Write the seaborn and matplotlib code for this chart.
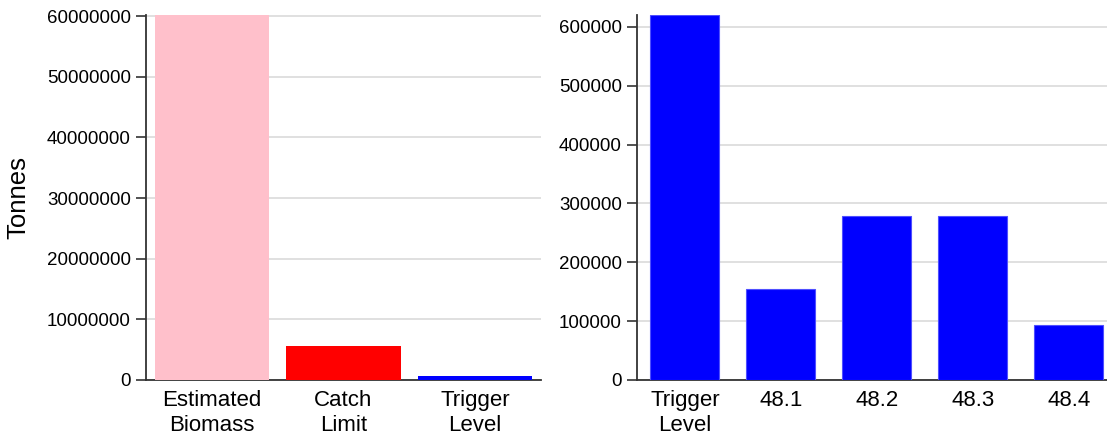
import pandas as pd
import seaborn as sns
import numpy as np
import matplotlib.pyplot as plt

# datos
left_cats = ['Estimated\nBiomass', 'Catch\nLimit', 'Trigger\nLevel']
left_vals = [60300000, 5610000, 620000]
left_colors = ['#FFC0CB', '#FF0000', '#0000FF']

right_cats = ['Trigger\nLevel', '48.1', '48.2', '48.3', '48.4']
right_vals = [620000, 155000, 279000, 279000, 93000]

sns.set_style('white')
plt.rcParams['font.family'] = ['Liberation Sans', 'DejaVu Sans']
plt.rcParams['text.color'] = 'black'
plt.rcParams['xtick.color'] = 'black'
plt.rcParams['ytick.color'] = 'black'
plt.rcParams['axes.labelcolor'] = 'black'

fig = plt.figure(figsize=(11.07, 4.34), dpi=100)
ax1 = fig.add_axes([146/1107, 1-380/434, (541-146)/1107, 365/434])
ax2 = fig.add_axes([637/1107, 1-380/434, (1107-637)/1107, 365/434])

dfL = pd.DataFrame({'cat': left_cats, 'val': left_vals})
sns.barplot(data=dfL, x='cat', y='val', hue='cat', palette=left_colors,
            width=0.87, legend=False, ax=ax1, saturation=1, zorder=3,
            edgecolor='none')

dfR = pd.DataFrame({'cat': right_cats, 'val': right_vals})
sns.barplot(data=dfR, x='cat', y='val', color='#0000FF', width=0.72,
            ax=ax2, saturation=1, zorder=3, edgecolor='#4f4fff', linewidth=0.8)

ax1.set_ylim(0, 60200000)
ax1.set_yticks(np.arange(0, 60000001, 10000000))
ax1.set_yticklabels([str(v) for v in range(0, 60000001, 10000000)])
ax1.set_xlim(-0.5, 2.5)
ax1.set_ylabel('Tonnes', fontsize=18.5, labelpad=12)

ax2.set_ylim(0, 620000)
ax2.set_yticks(np.arange(0, 600001, 100000))
ax2.set_yticklabels([str(v) for v in range(0, 600001, 100000)])
ax2.set_xlim(-0.5, 4.4)
ax2.set_ylabel('')

for ax in (ax1, ax2):
    ax.set_xlabel('')
    ax.grid(axis='y', color='#dddddd', linewidth=1.3, zorder=0)
    ax.set_axisbelow(True)
    for s in ['top', 'right']:
        ax.spines[s].set_visible(False)
    ax.spines['left'].set_color('#333333')
    ax.spines['bottom'].set_color('#333333')
    ax.spines['left'].set_linewidth(1.3)
    ax.spines['bottom'].set_linewidth(1.3)
    ax.tick_params(axis='y', left=True, length=7, width=1.2, color='#333333',
                   labelsize=13.5, pad=4)
    ax.tick_params(axis='x', bottom=False, labelsize=16, pad=4)

fig.savefig('out.png', dpi=100)
